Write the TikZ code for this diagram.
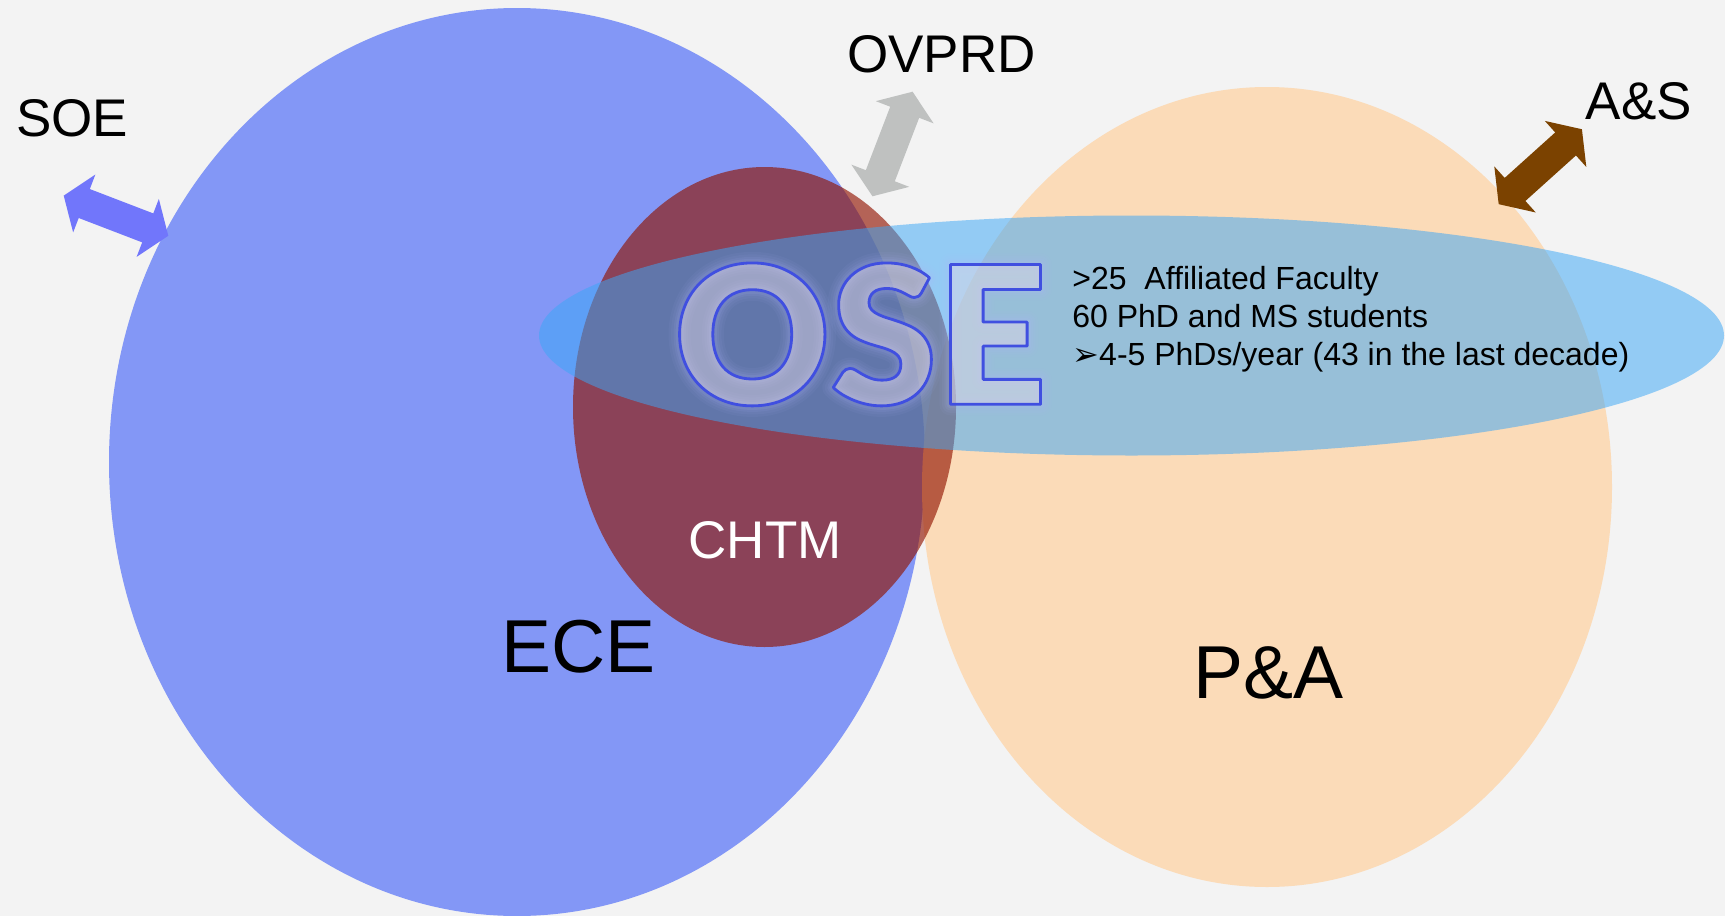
\documentclass[tikz,border=0pt]{standalone}
\usepackage{fontspec}
\setmainfont{Liberation Sans}
\newfontfamily\osefont{Lato Black}
\newfontfamily\symfont{DejaVu Sans}
\definecolor{bg}{RGB}{243,243,243}
\definecolor{ece}{RGB}{131,151,246}
\definecolor{pa}{RGB}{251,219,184}
\definecolor{chtm}{RGB}{145,19,0}
\definecolor{ose}{RGB}{60,167,246}
\definecolor{osefill}{RGB}{228,218,230}
\definecolor{soearr}{RGB}{113,118,251}
\definecolor{ovprdarr}{RGB}{191,193,192}
\definecolor{asarr}{RGB}{123,66,0}
% text render modes through the PDF driver: outline (1) and fill+outline (2)
\newcommand\outlinetext[3]{\special{pdf:literal direct #1 Tr #2 w 1 j #3 RG}OSE\special{pdf:literal direct 0 Tr}}
\begin{document}
\begin{tikzpicture}[x=0.5pt,y=-0.5pt,
  tag/.style={inner sep=0pt, anchor=base, font=\fontsize{26.5}{30}\selectfont},
  bigtag/.style={inner sep=0pt, anchor=base, font=\fontsize{37.5}{42}\selectfont},
  info/.style={inner sep=0pt, anchor=base west, font=\fontsize{16}{19}\selectfont},
  osestyle/.style={inner sep=0pt, anchor=center, font=\osefont\fontsize{96}{100}\selectfont},
  dblarrow/.pic={\fill[pic actions] (-56,0) -- (-34,-31) -- (-34,-15.5) -- (34,-15.5)
      -- (34,-31) -- (56,0) -- (34,31) -- (34,15.5) -- (-34,15.5) -- (-34,31) -- cycle;}]
  % canvas
  \fill[bg] (0,0) rectangle (1725,916);
  \useasboundingbox (0,0) rectangle (1725,916);

  % departments and centres
  \fill[ece] (517,462) ellipse [x radius=408, y radius=454];
  \fill[pa] (1267,487) ellipse [x radius=345, y radius=400];
  \fill[chtm, fill opacity=0.64] (764.5,407) ellipse [x radius=191.5, y radius=240];
  \fill[ose, fill opacity=0.52] (1131.5,335.5) ellipse [x radius=592.5, y radius=120];

  % links to the outside units
  \pic[fill=soearr, rotate=-21] (soearrow) at (116,215.7) {dblarrow};
  \pic[fill=ovprdarr, rotate=69] (ovprdarrow) at (892.5,144) {dblarrow};
  \pic[fill=asarr, rotate=42] (asarrow) at (1540.3,166.7) {dblarrow};

  % labels
  \node[tag] (soe) at (72,136.4) {SOE};
  \node[tag] (ovprd) at (941.6,72.6) {OVPRD};
  \node[tag] (as) at (1639,119.9) {A\&S};
  \node[tag, text=white] (chtmlbl) at (765,558.8) {CHTM};
  \node[bigtag] (ecelbl) at (578.6,672) {ECE};
  \node[bigtag] (palbl) at (1268.9,698.5) {P\&A};

  % OSE title with a soft halo built from faint wide outlines
  \node[osestyle] (oseglowa) at (860.5,334.4)
    {\pgfsetstrokeopacity{0.05}\outlinetext{1}{11}{0.69 0.73 1}};
  \node[osestyle] (oseglowb) at (860.5,334.4)
    {\pgfsetstrokeopacity{0.06}\outlinetext{1}{8.5}{0.69 0.73 1}};
  \node[osestyle] (oseglowc) at (860.5,334.4)
    {\pgfsetstrokeopacity{0.08}\outlinetext{1}{6}{0.69 0.73 1}};
  \node[osestyle] (oseglowd) at (860.5,334.4)
    {\pgfsetstrokeopacity{0.1}\outlinetext{1}{4}{0.69 0.73 1}};
  \node[osestyle, text=osefill, text opacity=0.45] (ose) at (860.5,334.4)
    {\pgfsetstrokeopacity{1}\outlinetext{2}{1.4}{0.25 0.31 0.88}};

  % facts
  \node[info] (info1) at (1072,289) {>25\ \ Affiliated Faculty};
  \node[info] (info2) at (1072,327) {60 PhD and MS students};
  \node[info] (info3) at (1072,365) {{\symfont ➢}4-5 PhDs/year (43 in the last decade)};
\end{tikzpicture}
\end{document}
